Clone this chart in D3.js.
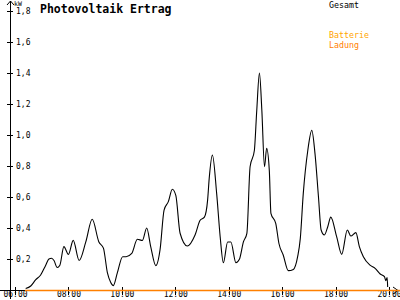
<!doctype html>
<head>
  <meta charset="utf-8">
  <title>Photovoltaik Ertrag</title>
  <script src="https://cdn.jsdelivr.net/npm/d3@7"></script>
  <style>
    body { margin: 0; background: #fff; }
    svg { display: block; }
    text { font-family: "DejaVu Sans Mono", monospace; }
  </style>
</head>
<body>
  <div id="chart"></div>
  <script type="text/javascript">
    var width = 400;
    var height = 300;

    // Gesamt (kW) over decimal hours
    var gesamtTimes = [
      6.40, 6.59, 6.77, 6.96, 7.15, 7.27, 7.37, 7.46, 7.58, 7.68, 7.83, 8.00, 8.18, 8.40,
      8.65, 8.89, 9.14, 9.31, 9.46, 9.58, 9.68, 9.83, 10.03, 10.16, 10.37, 10.58, 10.77,
      10.93, 11.08, 11.27, 11.43, 11.58, 11.74, 11.89, 12.02, 12.18, 12.45, 12.74, 12.93,
      13.09, 13.21, 13.27, 13.39, 13.55, 13.68, 13.80, 13.96, 14.08, 14.27, 14.40, 14.55,
      14.68, 14.80, 14.96, 15.05, 15.15, 15.24, 15.34, 15.42, 15.52, 15.58, 15.76, 15.88,
      16.04, 16.23, 16.42, 16.58, 16.68, 16.79, 16.96, 17.11, 17.23, 17.36, 17.46, 17.58,
      17.71, 17.82, 18.04, 18.23, 18.44, 18.57, 18.76, 18.89, 19.04, 19.29, 19.48, 19.67,
      19.83, 19.88, 19.93, 19.95
    ];
    var gesamtValues = [
      0.01, 0.026, 0.065, 0.097, 0.16, 0.20, 0.205, 0.19, 0.145, 0.16, 0.28, 0.23, 0.32, 0.19,
      0.31, 0.456, 0.31, 0.27, 0.11, 0.05, 0.028, 0.11, 0.215, 0.215, 0.236, 0.327, 0.32,
      0.40, 0.28, 0.157, 0.26, 0.516, 0.57, 0.65, 0.61, 0.366, 0.284, 0.355, 0.45,
      0.47, 0.58, 0.72, 0.87, 0.62, 0.344, 0.176, 0.31, 0.31, 0.176, 0.198, 0.31,
      0.366, 0.795, 0.90, 1.16, 1.40, 1.16, 0.795, 0.914, 0.77, 0.495, 0.43, 0.30,
      0.226, 0.125, 0.133, 0.215, 0.333, 0.62, 0.90, 1.03, 0.88, 0.60, 0.387, 0.355,
      0.41, 0.47, 0.344, 0.23, 0.387, 0.348, 0.37, 0.28, 0.215, 0.16, 0.14, 0.103,
      0.086, 0.06, 0.08, 0.02
    ];

    // Batterie Ladung (kW)
    var ladungTimes = [6.37, 20.5];
    var ladungValues = [0, 0];

    var xTicks = [6, 8, 10, 12, 14, 16, 18, 20];
    var xTickLabels = ['06:00', '08:00', '10:00', '12:00', '14:00', '16:00', '18:00', '20:00'];
    var yTicks = [0.2, 0.4, 0.6, 0.8, 1.0, 1.2, 1.4, 1.6, 1.8];

    var svg = d3.select('div#chart')
      .append('svg')
      .attr('width', width)
      .attr('height', height);

    var x = d3.scaleLinear().domain([6, 20]).range([15, 389]);
    var y = d3.scaleLinear().domain([0, 1.8]).range([290, 11]);
    var x0 = 10;

    // y axis
    var yAxis = svg.append('g')
      .attr('transform', 'translate(' + x0 + ',0)')
      .call(d3.axisLeft(y).tickValues(yTicks).tickSize(3)
        .tickFormat(function(d) { return d3.format('.1f')(d).replace('.', ','); }));
    yAxis.select('.domain').remove();
    yAxis.selectAll('.tick line').attr('x1', -3).attr('x2', 3).attr('stroke', '#000')
      .attr('shape-rendering', 'crispEdges');
    yAxis.selectAll('.tick text')
      .attr('x', 6).attr('dy', '0.32em')
      .attr('text-anchor', 'start')
      .attr('font-size', '8px')
      .attr('font-family', '"DejaVu Sans Mono", monospace')
      .attr('fill', '#000');

    svg.append('line')
      .attr('x1', x0 + 0.5).attr('x2', x0 + 0.5)
      .attr('y1', 1).attr('y2', 299)
      .attr('stroke', '#000');
    svg.append('path')
      .attr('d', 'M' + (x0 - 3) + ',5L' + (x0 + 0.5) + ',1L' + (x0 + 4) + ',5')
      .attr('fill', 'none').attr('stroke', '#000');
    svg.append('text')
      .attr('x', 14).attr('y', 6)
      .attr('font-size', '6.5px')
      .text('kW');

    // x axis
    var xAxis = svg.append('g')
      .attr('transform', 'translate(0,290)')
      .call(d3.axisBottom(x).tickValues(xTicks).tickSize(3)
        .tickFormat(function(d, i) { return xTickLabels[i]; }));
    xAxis.select('.domain').remove();
    xAxis.selectAll('.tick line').attr('y1', -3).attr('y2', 5).attr('stroke', '#000')
      .attr('shape-rendering', 'crispEdges');
    xAxis.selectAll('.tick text')
      .attr('y', 7).attr('dy', 0)
      .attr('font-size', '8px')
      .attr('font-family', '"DejaVu Sans Mono", monospace')
      .attr('fill', '#000');

    svg.append('line')
      .attr('x1', 0).attr('x2', 398)
      .attr('y1', 290.5).attr('y2', 290.5)
      .attr('stroke', '#000');
    svg.append('path')
      .attr('d', 'M393,287L398,290.5L393,294')
      .attr('fill', 'none').attr('stroke', '#000');

    // series
    var line = d3.line()
      .x(function(d) { return x(d[0]); })
      .y(function(d) { return y(d[1]); });

    svg.append('path')
      .datum(d3.zip(ladungTimes, ladungValues))
      .attr('d', line)
      .attr('transform', 'translate(0,0.5)')
      .attr('fill', 'none')
      .attr('stroke', '#ff8000')
      .attr('stroke-width', 1.5);

    svg.append('path')
      .datum(d3.zip(gesamtTimes, gesamtValues))
      .attr('d', line.curve(d3.curveMonotoneX))
      .attr('fill', 'none')
      .attr('stroke', '#000')
      .attr('stroke-width', 1.1);

    // title and legend
    svg.append('text')
      .attr('x', 40).attr('y', 13)
      .attr('font-size', '11.5px')
      .attr('font-weight', 'bold')
      .text('Photovoltaik Ertrag');

    var legend = [
      { label: 'Gesamt', color: '#000', y: 8 },
      { label: 'Batterie', color: '#ffa500', y: 38 },
      { label: 'Ladung', color: '#ff8000', y: 47.5 }
    ];
    svg.selectAll('text.legend')
      .data(legend)
      .enter()
      .append('text')
      .attr('class', 'legend')
      .attr('x', 329)
      .attr('y', function(d) { return d.y; })
      .attr('font-size', '8.3px')
      .attr('fill', function(d) { return d.color; })
      .text(function(d) { return d.label; });
  </script>
</body>
</html>
